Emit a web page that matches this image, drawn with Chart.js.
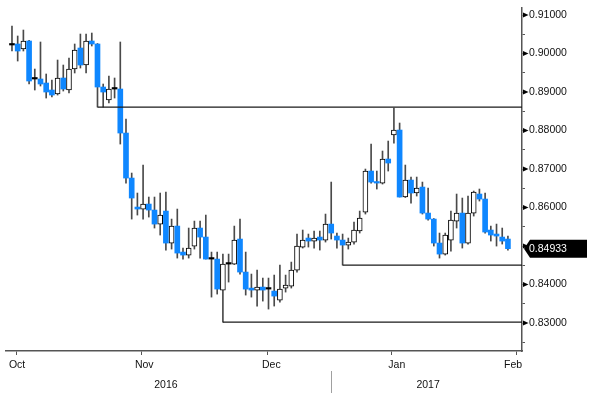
<!DOCTYPE html>
<html>
<head>
<meta charset="utf-8">
<script src="https://cdn.jsdelivr.net/npm/chart.js@4.4.1/dist/chart.umd.min.js"></script>
<style>
  html, body { margin: 0; padding: 0; background: #fff; }
  #wrap { width: 600px; height: 395px; position: relative; }
</style>
</head>
<body>
<div id="wrap"><canvas id="c"></canvas></div>
<script>
// daily candles, one per trading day (mid Oct 2016 -> mid Feb 2017)
const opens = [
  0.90221, 0.90247, 0.90117, 0.90325, 0.89338, 0.89338, 0.89234, 0.89052, 0.88948, 0.89364,
  0.89052, 0.89597, 0.90143, 0.89701, 0.90325, 0.90247, 0.89130, 0.88792, 0.89078, 0.89078,
  0.87935, 0.86766, 0.86013, 0.85961, 0.86091, 0.85935, 0.85571, 0.85909, 0.85078, 0.85519,
  0.84844, 0.84766, 0.85000, 0.85468, 0.85234, 0.84662, 0.84662, 0.83857, 0.84532, 0.84532,
  0.85182, 0.84325, 0.83909, 0.83857, 0.83935, 0.83883, 0.83831, 0.83597, 0.83909, 0.83961,
  0.84377, 0.84974, 0.85208, 0.85130, 0.85234, 0.85156, 0.85571, 0.85260, 0.85156, 0.85026,
  0.85104, 0.85390, 0.85883, 0.86948, 0.86662, 0.86636, 0.87260, 0.87883, 0.88013, 0.86273,
  0.86714, 0.86377, 0.86532, 0.85857, 0.85701, 0.85078, 0.84792, 0.85156, 0.85649, 0.85857,
  0.85078, 0.85857, 0.86351, 0.86221, 0.85416, 0.85312, 0.85234, 0.85182];
const highs = [
  0.90714, 0.90455, 0.90610, 0.90340, 0.89597, 0.90299, 0.89468, 0.89312, 0.89831, 0.89701,
  0.89883, 0.90247, 0.90506, 0.90506, 0.90532, 0.90260, 0.89208, 0.89416, 0.89364, 0.90299,
  0.88299, 0.86896, 0.86377, 0.87104, 0.86273, 0.86273, 0.86377, 0.86403, 0.85701, 0.85961,
  0.84948, 0.85468, 0.85649, 0.85649, 0.85805, 0.84844, 0.84844, 0.84792, 0.84792, 0.85519,
  0.85701, 0.84844, 0.84273, 0.84377, 0.84169, 0.84169, 0.84247, 0.84506, 0.84247, 0.84584,
  0.85312, 0.85416, 0.85312, 0.85390, 0.85390, 0.85831, 0.86662, 0.85338, 0.85312, 0.85208,
  0.85623, 0.85909, 0.87000, 0.87649, 0.86948, 0.87468, 0.87727, 0.88584, 0.88195, 0.87104,
  0.86792, 0.86792, 0.86662, 0.86506, 0.85715, 0.85338, 0.85338, 0.85909, 0.86351, 0.86247,
  0.86299, 0.86429, 0.86481, 0.86377, 0.85519, 0.85571, 0.85468, 0.85260];
const lows = [
  0.90065, 0.89805, 0.90065, 0.89208, 0.89052, 0.89156, 0.88844, 0.88870, 0.88922, 0.89026,
  0.88974, 0.89494, 0.89623, 0.89494, 0.90195, 0.88610, 0.88610, 0.88714, 0.88844, 0.87649,
  0.86636, 0.85701, 0.85805, 0.85701, 0.85753, 0.85468, 0.85286, 0.84896, 0.84922, 0.84688,
  0.84662, 0.84688, 0.84922, 0.84688, 0.84662, 0.83675, 0.83753, 0.83026, 0.84065, 0.84520,
  0.84273, 0.83727, 0.83675, 0.83442, 0.83571, 0.83364, 0.83442, 0.83545, 0.83805, 0.83909,
  0.84325, 0.84948, 0.84974, 0.84948, 0.84896, 0.85104, 0.85182, 0.84948, 0.84506, 0.84922,
  0.85052, 0.85338, 0.85831, 0.86636, 0.86481, 0.86610, 0.86948, 0.87675, 0.86273, 0.86260,
  0.86117, 0.86299, 0.85831, 0.85675, 0.85000, 0.84688, 0.84766, 0.84870, 0.85468, 0.84948,
  0.85052, 0.85779, 0.86169, 0.85338, 0.85130, 0.85000, 0.85052, 0.84896];
const closes = [
  0.90221, 0.90065, 0.90325, 0.89286, 0.89338, 0.89208, 0.89000, 0.88922, 0.89364, 0.89078,
  0.89597, 0.90091, 0.89701, 0.90325, 0.90247, 0.89130, 0.89000, 0.89078, 0.89078, 0.87935,
  0.86766, 0.86247, 0.85961, 0.86091, 0.85935, 0.85571, 0.85805, 0.85078, 0.85519, 0.84818,
  0.84766, 0.84948, 0.85468, 0.85234, 0.84662, 0.84662, 0.83883, 0.84532, 0.84532, 0.85156,
  0.84325, 0.83883, 0.83857, 0.83935, 0.83857, 0.83883, 0.83701, 0.83883, 0.83987, 0.84377,
  0.85000, 0.85156, 0.85130, 0.85208, 0.85156, 0.85571, 0.85338, 0.85156, 0.85026, 0.85104,
  0.85416, 0.85727, 0.86948, 0.86662, 0.86636, 0.87260, 0.87156, 0.88013, 0.86273, 0.86714,
  0.86377, 0.86506, 0.85857, 0.85701, 0.85078, 0.84792, 0.85286, 0.85675, 0.85857, 0.85078,
  0.85857, 0.86403, 0.86221, 0.85364, 0.85286, 0.85260, 0.85130, 0.84933];

// horizontal levels drawn from a candle low to the right edge
const levelPrices = [0.88610, 0.84506, 0.83026];
const levelStarts = [15, 58, 37];

// axes (x in candle index units)
const monthTicks = [11.8, 33.8, 55.7, 77.6];
const monthLabels = ['Oct', 'Nov', 'Dec', 'Jan', 'Feb'];
const monthLabelPos = [0.9, 23.2, 45.5, 67.5, 87.9];
const yearLabels = ['2016', '2017'];
const yearLabelPos = [27.0, 73.0];
const yearSplit = 55.9;
const yTicks = [0.825, 0.83, 0.835, 0.84, 0.845, 0.85, 0.855, 0.86, 0.865,
                0.87, 0.875, 0.88, 0.885, 0.89, 0.895, 0.90, 0.905, 0.91];
const yMajor = [0.83, 0.84, 0.85, 0.86, 0.87, 0.88, 0.89, 0.90, 0.91];

const X_MIN = -1.05, X_MAX = 89.47;
const Y_MIN = 0.82275, Y_MAX = 0.91182;
const BLUE = '#0f87ff';
const FONT = { family: "'Liberation Sans', Arial, sans-serif", size: 10.5 };

const isMajor = v => yMajor.some(m => Math.abs(m - v) < 1e-7);

const bodyFill = opens.map((o, i) => closes[i] > o ? '#ffffff' : (closes[i] < o ? BLUE : '#000000'));
const bodyLine = opens.map((o, i) => closes[i] > o ? '#000000' : bodyFill[i]);
const bodyBorder = opens.map((o, i) => closes[i] > o ? 1 : 0);

const datasets = [];
levelPrices.forEach((p, k) => {
  datasets.push({
    type: 'line',
    data: [{ x: levelStarts[k], y: p }, { x: X_MAX, y: p }],
    borderColor: '#1a1a1a', borderWidth: 1.3, pointRadius: 0,
    xAxisID: 'x', yAxisID: 'y', order: 0
  });
});
datasets.push({
  type: 'bar',
  data: opens.map((o, i) => ({ x: i, y: [o, closes[i]] })),
  backgroundColor: bodyFill, borderColor: bodyLine, borderWidth: bodyBorder,
  borderSkipped: false, barThickness: 5, minBarLength: 1.5, grouped: false,
  xAxisID: 'x', yAxisID: 'y', order: 1
});
datasets.push({
  type: 'bar',
  data: highs.map((h, i) => ({ x: i, y: [lows[i], h] })),
  backgroundColor: '#4a4a4a', borderWidth: 0,
  barThickness: 1, grouped: false,
  xAxisID: 'x', yAxisID: 'y', order: 2
});

const decor = {
  id: 'decor',
  afterDraw(chart) {
    const { ctx, chartArea, scales } = chart;
    const y = scales.y, x = scales.x, xy = scales.xy;
    ctx.save();
    // arrow marks at labelled ticks
    ctx.fillStyle = '#000';
    yMajor.forEach(v => {
      const py = y.getPixelForValue(v);
      ctx.beginPath();
      ctx.moveTo(chartArea.right + 1, py - 2.5);
      ctx.lineTo(chartArea.right + 6.5, py);
      ctx.lineTo(chartArea.right + 1, py + 2.5);
      ctx.closePath();
      ctx.fill();
    });
    // year separator
    const sx = Math.round(x.getPixelForValue(yearSplit)) + 0.5;
    ctx.strokeStyle = '#a0a0a0';
    ctx.lineWidth = 1;
    ctx.beginPath();
    ctx.moveTo(sx, xy.top - 2);
    ctx.lineTo(sx, xy.bottom - 1);
    ctx.stroke();
    // last price tag
    const last = closes[closes.length - 1];
    const py = y.getPixelForValue(last);
    const left = chartArea.right + 2;
    ctx.fillStyle = '#000';
    ctx.beginPath();
    ctx.moveTo(left, py);
    ctx.lineTo(left + 6, py - 9);
    ctx.lineTo(587, py - 9);
    ctx.lineTo(587, py + 9);
    ctx.lineTo(left + 6, py + 9);
    ctx.closePath();
    ctx.fill();
    ctx.fillStyle = '#fff';
    ctx.font = FONT.size + 'px ' + FONT.family;
    ctx.textBaseline = 'middle';
    ctx.fillText(last.toFixed(5), left + 5, py + 0.5);
    ctx.restore();
  }
};

const noPad = s => { s.paddingLeft = 0; s.paddingRight = 0; s.paddingTop = 0; s.paddingBottom = 0; };

new Chart(document.getElementById('c').getContext('2d'), {
  type: 'bar',
  data: { datasets },
  options: {
    responsive: true,
    maintainAspectRatio: false,
    animation: false,
    layout: { padding: { left: 6, right: 0, top: 8, bottom: 1 } },
    plugins: { legend: { display: false }, tooltip: { enabled: false } },
    scales: {
      x: {
        type: 'linear', position: 'bottom', min: X_MIN, max: X_MAX, bounds: 'data', offset: false, weight: 0,
        afterBuildTicks: s => { s.ticks = monthTicks.map(v => ({ value: v })); },
        afterFit: s => { s.height = 4; noPad(s); },
        grid: { drawOnChartArea: false, drawTicks: true, tickLength: 4, color: '#555', lineWidth: 1 },
        border: { display: true, color: '#555', width: 1.5 },
        ticks: { display: false }
      },
      xm: {
        type: 'linear', position: 'bottom', min: X_MIN, max: X_MAX, bounds: 'data', offset: false, weight: 1,
        afterBuildTicks: s => { s.ticks = monthLabelPos.map(v => ({ value: v })); },
        afterFit: s => { s.height = 18; noPad(s); },
        grid: { display: false, drawTicks: false },
        border: { display: false },
        ticks: { autoSkip: false, maxRotation: 0, padding: 4, color: '#111', font: FONT,
                 callback: (v, i) => monthLabels[i] }
      },
      xy: {
        type: 'linear', position: 'bottom', min: X_MIN, max: X_MAX, bounds: 'data', offset: false, weight: 2,
        afterBuildTicks: s => { s.ticks = yearLabelPos.map(v => ({ value: v })); },
        afterFit: s => { s.height = 21; noPad(s); },
        grid: { display: false, drawTicks: false },
        border: { display: false },
        ticks: { autoSkip: false, maxRotation: 0, padding: 6, color: '#111', font: FONT,
                 callback: (v, i) => yearLabels[i] }
      },
      y: {
        type: 'linear', position: 'right', min: Y_MIN, max: Y_MAX, bounds: 'data',
        afterBuildTicks: s => { s.ticks = yTicks.map(v => ({ value: v })); },
        afterFit: s => { s.width = 78; noPad(s); },
        grid: { drawOnChartArea: false, drawTicks: true, tickLength: 3, color: '#555', lineWidth: 1 },
        border: { display: true, color: '#555', width: 1.5 },
        ticks: { autoSkip: false, padding: 4, color: '#111', font: FONT,
                 callback: v => isMajor(v) ? v.toFixed(5) : '' }
      }
    }
  },
  plugins: [decor]
});
</script>
</body>
</html>
